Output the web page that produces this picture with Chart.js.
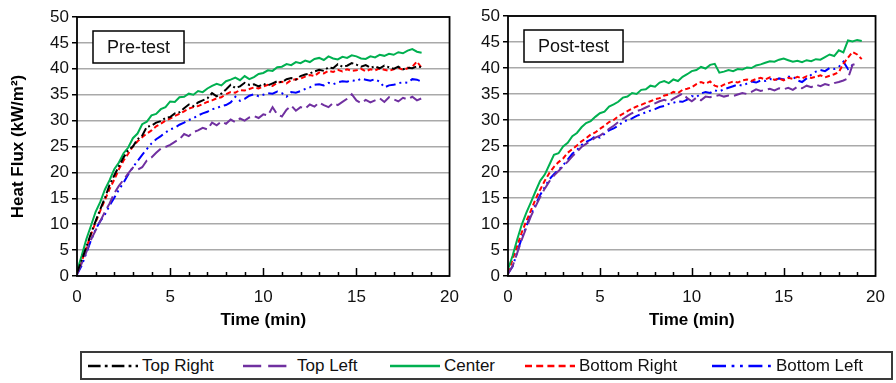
<!DOCTYPE html>
<html>
<head>
<meta charset="utf-8">
<script src="https://cdn.jsdelivr.net/npm/chart.js@4.4.1/dist/chart.umd.min.js"></script>
<style>
  body { margin: 0; background: #fff; width: 896px; height: 383px; overflow: hidden; position: relative;
         font-family: "Liberation Sans", Arial, sans-serif; }
  .wrap { position: absolute; top: 0; height: 340px; }
  #legend { position: absolute; left: 80px; top: 351px; width: 813px; height: 29px; box-sizing: border-box;
            border: 2px solid #3a3a3a; }
  .item { position: absolute; top: 0; height: 25px; display: flex; align-items: center; font-size: 17px; color: #111; white-space: nowrap; }
  .item svg { margin-right: 4px; }
</style>
</head>
<body>
<div class="wrap" style="left:0;width:470px"><canvas id="preChart"></canvas></div>
<div class="wrap" style="left:460px;width:436px"><canvas id="postChart"></canvas></div>
<div id="legend"></div>
<script>
// time (min)
const timesPre = [0,0.25,0.5,0.75,1,1.25,1.5,1.75,2,2.25,2.5,2.75,3,3.25,3.5,3.75,4,4.25,4.5,4.75,
  5,5.25,5.5,5.75,6,6.25,6.5,6.75,7,7.25,7.5,7.75,8,8.25,8.5,8.75,9,9.25,9.5,9.75,
  10,10.25,10.5,10.75,11,11.25,11.5,11.75,12,12.25,12.5,12.75,13,13.25,13.5,13.75,14,14.25,14.5,14.75,
  15,15.25,15.5,15.75,16,16.25,16.5,16.75,17,17.25,17.5,17.75,18,18.25,18.5];
const timesPost = [0,0.25,0.5,0.75,1,1.25,1.5,1.75,2,2.25,2.5,2.75,3,3.25,3.5,3.75,4,4.25,4.5,4.75,
  5,5.25,5.5,5.75,6,6.25,6.5,6.75,7,7.25,7.5,7.75,8,8.25,8.5,8.75,9,9.25,9.5,9.75,
  10,10.25,10.5,10.75,11,11.25,11.5,11.75,12,12.25,12.5,12.75,13,13.25,13.5,13.75,14,14.25,14.5,14.75,
  15,15.25,15.5,15.75,16,16.25,16.5,16.75,17,17.25,17.5,17.75,18,18.25,18.5,18.75,19,19.25];

const seriesNames = ["Top Right", "Top Left", "Center", "Bottom Right", "Bottom Left"];

// Pre-test heat flux (kW/m2)
const preTopRight = [0.6,3.0,5.6,8.2,10.6,12.9,15.1,17.6,19.4,21.2,22.9,24.3,25.0,26.4,27.1,28.8,29.0,29.6,29.9,30.5,
  30.7,31.4,31.6,32.4,33.1,32.8,33.5,33.9,34.3,35.3,34.7,35.2,36.0,36.9,36.3,36.6,37.3,36.9,37.0,36.6,
  37.1,36.8,37.2,37.6,37.4,38.0,38.2,37.9,38.6,38.9,39.1,39.5,39.8,39.6,40.3,40.1,40.9,40.4,40.6,41.1,
  40.8,40.4,40.7,40.2,40.5,40.1,40.6,40.3,40.0,40.4,39.9,40.2,40.1,40.5,40.3];
const preTopLeft = [0.5,2.4,4.6,7.0,8.8,10.6,12.4,14.0,16.0,17.4,18.6,19.8,20.9,20.5,21.0,22.3,22.9,23.8,24.6,24.9,
  25.3,25.9,26.4,27.4,27.0,27.8,28.1,28.6,28.3,29.6,29.1,29.8,29.4,30.2,29.7,30.4,30.0,30.6,30.9,30.5,
  31.2,31.0,32.6,31.2,30.8,32.1,32.9,31.9,32.6,32.3,33.1,32.7,33.5,33.0,32.6,33.4,33.0,33.6,34.2,35.1,
  33.9,33.4,34.0,33.5,33.9,34.3,33.6,34.5,34.1,33.7,34.4,34.1,34.6,33.9,34.3];
const preCenter = [1.0,3.9,7.1,9.7,12.4,14.3,16.7,18.5,20.6,21.9,23.7,24.8,26.6,27.5,29.3,29.8,31.0,31.3,32.2,32.6,
  33.7,33.6,34.5,34.6,35.2,35.0,35.7,35.5,36.2,36.7,37.1,36.8,37.6,37.9,38.3,37.8,38.6,38.0,38.4,39.0,
  39.2,39.7,39.6,40.3,40.4,40.9,40.7,41.3,41.1,41.6,41.3,41.9,42.1,41.7,42.4,42.0,41.8,42.3,42.1,42.6,
  42.4,42.0,41.9,42.4,42.2,42.7,42.5,42.9,42.7,43.2,43.0,43.5,43.8,43.3,43.1];
const preBottomRight = [0.4,2.8,5.4,8.0,10.4,12.6,14.7,16.8,18.6,20.6,22.3,23.6,25.0,26.0,26.8,27.5,28.1,28.9,29.4,30.0,
  30.4,30.9,31.3,31.8,32.3,32.6,32.8,33.2,33.6,33.9,34.3,34.5,35.1,35.5,35.4,35.9,35.8,36.1,36.4,36.2,
  36.6,36.9,36.7,37.3,37.5,37.2,37.8,38.0,38.1,38.5,38.8,38.6,39.3,39.1,39.6,39.4,39.8,39.5,39.9,39.6,
  39.7,40.0,39.5,39.9,39.7,40.1,39.8,39.6,39.9,40.2,39.8,40.1,40.4,41.4,40.2];
const preBottomLeft = [0.3,2.0,4.4,6.9,9.0,10.6,11.9,13.6,15.1,16.7,18.0,19.6,21.0,22.2,23.4,24.5,25.6,26.4,27.0,27.7,
  28.3,28.6,29.2,29.6,30.1,30.5,31.0,31.4,31.7,32.2,32.4,32.8,33.0,33.5,34.6,33.8,34.2,34.8,35.1,34.7,
  35.0,35.3,35.2,35.6,35.3,34.6,35.5,35.4,35.7,36.1,36.4,36.9,37.0,36.8,37.3,37.0,37.4,37.6,37.5,37.8,
  37.6,38.1,37.9,37.7,38.0,37.5,36.4,36.8,36.9,37.2,37.4,37.3,38.0,37.9,37.5];

// Post-test heat flux (kW/m2)
const postTopRight = [];
const postTopLeft = [0.4,1.9,4.4,7.0,9.3,11.5,13.4,15.2,16.8,18.2,19.3,20.2,21.1,22.0,23.0,23.9,24.8,25.4,26.0,26.6,
  27.0,27.6,28.3,28.9,29.6,30.2,30.8,31.3,31.7,32.0,32.4,32.8,33.2,33.6,33.9,33.5,34.1,34.6,35.1,34.2,
  33.6,34.3,33.8,34.5,34.4,34.6,34.8,34.5,34.7,34.6,34.9,35.2,35.0,35.4,35.9,35.6,35.8,36.0,35.7,36.1,
  35.9,36.2,35.8,36.4,36.1,36.6,36.3,36.8,36.5,36.9,36.7,37.1,37.3,37.6,38.0,40.6,40.9];
const postCenter = [1.3,3.9,7.0,9.9,12.2,14.2,16.3,18.3,19.5,21.4,23.3,23.6,24.9,25.6,26.9,27.5,28.6,29.4,29.8,30.6,
  31.3,31.6,32.6,33.0,33.5,34.3,34.5,35.2,35.0,35.8,35.9,36.6,36.4,37.2,37.5,37.1,37.8,37.5,38.3,38.8,
  39.4,39.6,40.2,39.9,40.6,40.8,39.1,39.3,39.6,39.4,39.8,39.7,40.1,40.0,40.5,40.7,41.0,41.3,41.2,41.6,
  41.8,41.5,41.2,41.4,41.1,41.5,41.3,41.7,41.6,42.1,42.6,42.3,43.4,43.0,45.3,45.1,45.4,45.2];
const postBottomRight = [0.6,3.2,5.8,8.4,10.6,12.6,14.8,16.6,18.3,19.8,21.0,21.9,22.6,23.7,24.4,25.1,25.9,26.5,27.2,27.6,
  28.3,28.9,29.6,30.0,30.7,31.2,31.7,32.2,32.6,32.9,33.3,33.6,34.0,34.2,34.7,34.9,35.4,35.2,35.8,36.0,
  36.3,36.9,37.3,37.0,37.4,36.6,36.3,36.8,37.1,37.4,37.2,37.6,37.8,37.5,37.9,38.1,37.8,38.2,37.7,38.0,
  37.6,38.1,37.9,38.3,38.0,38.4,38.1,38.3,38.6,38.2,38.5,38.8,39.2,40.8,42.0,43.1,42.6,41.7];
const postBottomLeft = [0.5,1.8,4.6,7.3,9.6,11.8,13.7,15.6,17.1,18.6,19.6,20.4,21.3,22.4,23.5,24.2,25.2,25.8,26.2,26.9,
  26.6,27.3,28.0,28.4,28.9,29.6,30.0,30.3,30.8,31.1,31.5,31.8,32.1,32.5,32.7,33.1,33.3,33.6,33.5,33.9,
  34.6,34.4,35.1,35.4,35.2,35.7,35.5,35.9,36.2,36.5,36.8,36.6,37.0,37.4,37.2,37.6,37.5,37.9,37.6,38.0,
  37.8,38.3,38.4,37.6,37.3,38.0,38.7,39.3,39.6,39.4,40.0,39.8,40.2,41.2,39.8,40.6];

const yTicks = [0, 5, 10, 15, 20, 25, 30, 35, 40, 45, 50];
const xTicks = [0, 5, 10, 15, 20];

const colors = ["#000000", "#7030a0", "#00b050", "#ff0000", "#0000ff"];
const dashes = [[9, 3, 2, 3], [13, 5], [], [5, 3], [10, 4, 2, 4, 2, 4]];

const tickFont = { family: "Liberation Sans", size: 17 };
const titleFont = { family: "Liberation Sans", size: 17, weight: "bold" };

// plot frame, inward x ticks and the Pre/Post label box
const framePlugin = {
  id: 'frame',
  afterDraw(chart, args, opts) {
    const { ctx, chartArea: a, scales } = chart;
    ctx.save();
    ctx.strokeStyle = '#000';
    ctx.lineWidth = 1.8;
    ctx.strokeRect(a.left, a.top, a.right - a.left, a.bottom - a.top);
    ctx.lineWidth = 1.5;
    ctx.beginPath();
    for (let t = 1; t < 20; t++) {
      const px = Math.round(scales.x.getPixelForValue(t)) + 0.5;
      const len = t % 5 === 0 ? 8 : 4;
      ctx.moveTo(px, a.bottom);
      ctx.lineTo(px, a.bottom - len);
    }
    ctx.stroke();

    ctx.font = '18px "Liberation Sans"';
    const w = ctx.measureText(opts.label).width + 28;
    const bx = a.left + 16, by = a.top + 14, bh = 32;
    ctx.fillStyle = '#fff';
    ctx.fillRect(bx, by, w, bh);
    ctx.strokeRect(bx, by, w, bh);
    ctx.fillStyle = '#111';
    ctx.textAlign = 'center';
    ctx.textBaseline = 'middle';
    ctx.fillText(opts.label, bx + w / 2, by + bh / 2 + 1);
    ctx.restore();
  }
};

function makeChart(id, labels, data, label, yWidth, pad, showTitle) {
  const datasets = seriesNames.map((name, i) => ({
    label: name,
    data: data[i],
    borderColor: colors[i],
    borderWidth: 2,
    borderDash: dashes[i],
    pointRadius: 0,
    tension: 0,
    fill: false
  }));

  return new Chart(document.getElementById(id), {
    type: 'line',
    data: { labels, datasets },
    plugins: [framePlugin],
    options: {
      responsive: true,
      maintainAspectRatio: false,
      animation: false,
      layout: { padding: pad },
      plugins: {
        legend: { display: false },
        tooltip: { enabled: false },
        frame: { label }
      },
      scales: {
        x: {
          type: 'linear',
          min: 0,
          max: 20,
          afterBuildTicks: (s) => { s.ticks = xTicks.map(v => ({ value: v })); },
          afterFit: (s) => { s.height = 64; },
          grid: { display: false, drawTicks: false },
          border: { display: false },
          ticks: { color: '#111', font: tickFont, padding: 11, maxRotation: 0 },
          title: { display: true, text: 'Time (min)', color: '#000', font: titleFont, padding: { top: 0, bottom: 9 } }
        },
        y: {
          min: 0,
          max: 50,
          afterBuildTicks: (s) => { s.ticks = yTicks.map(v => ({ value: v })); },
          afterFit: (s) => { s.width = yWidth; },
          grid: { color: '#a9a9a9', lineWidth: 1.5, tickColor: '#000', tickLength: 5 },
          border: { display: false },
          ticks: { color: '#111', font: tickFont, padding: 3 },
          title: { display: showTitle, text: 'Heat Flux (kW/m²)', color: '#000', font: titleFont, padding: { top: 8, bottom: 0 } }
        }
      }
    }
  });
}

makeChart('preChart', timesPre,
  [preTopRight, preTopLeft, preCenter, preBottomRight, preBottomLeft],
  'Pre-test', 77, { top: 17, right: 17, left: 0, bottom: 0 }, true);

// no Top Right trace is visible in the post-test panel
makeChart('postChart', timesPost,
  [postTopRight, postTopLeft, postCenter, postBottomRight, postBottomLeft],
  'Post-test', 48, { top: 16, right: 12, left: 0, bottom: 0 }, false);

// legend shared by both panels
const legendLeft = [6, 161, 308, 443, 630];
const sampleLen = [50, 50, 50, 50, 60];
const legend = document.getElementById('legend');
seriesNames.forEach((name, i) => {
  const item = document.createElement('div');
  item.className = 'item';
  item.style.left = legendLeft[i] + 'px';
  const w = sampleLen[i];
  const dash = dashes[i].length ? dashes[i].map(d => d * 1.4).join(' ') : 'none';
  item.innerHTML = '<svg width="' + w + '" height="6"><line x1="0" y1="3" x2="' + w + '" y2="3" stroke="' +
    colors[i] + '" stroke-width="2.5" stroke-dasharray="' + dash + '"/></svg><span>' + name + '</span>';
  legend.appendChild(item);
});
</script>
</body>
</html>
